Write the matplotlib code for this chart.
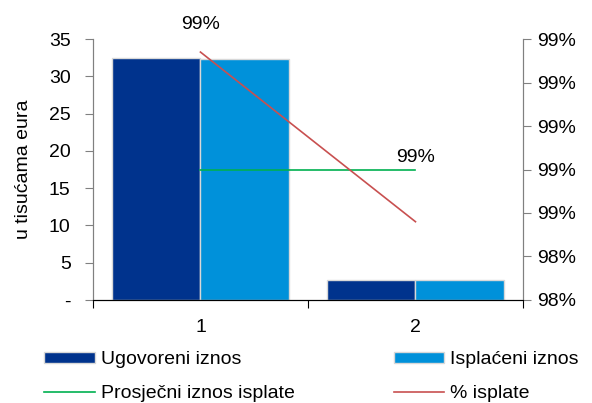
import numpy as np
import matplotlib
matplotlib.use("Agg")
import matplotlib.pyplot as plt
from matplotlib.ticker import FixedLocator, FuncFormatter

plt.rcParams["font.family"] = ["Liberation Sans", "DejaVu Sans"]
plt.rcParams["font.size"] = 14

# podaci
kategorije = ["1", "2"]
ugovoreni = [32.4, 2.7]
isplaceni = [32.3, 2.7]
prosjecni = [17.4, 17.4]
postotak = [0.9892, 0.9853]
postotak_oznake = ["99%", "99%"]
lijeve_oznake = [0, 5, 10, 15, 20, 25, 30, 35]
desne_oznake = [0.9835, 0.9845, 0.9855, 0.9865, 0.9875, 0.9885, 0.9895]

tamna = "#00338D"
svijetla = "#0091DA"
zelena = "#00B050"
crvena = "#C85050"

fig = plt.figure(figsize=(5.92, 4.03), dpi=100)
ax = fig.add_axes([0.157, 0.2556, 0.7264, 0.6476])
ax2 = ax.twinx()

x = np.arange(len(kategorije))
w = 0.41
b1 = ax.bar(x - w / 2, ugovoreni, w, color=tamna, edgecolor="#d8d8d8", linewidth=1)
b2 = ax.bar(x + w / 2, isplaceni, w, color=svijetla, edgecolor="#d8d8d8", linewidth=1)
l1, = ax.plot(x, prosjecni, color=zelena, linewidth=1.2)
l2, = ax2.plot(x, postotak, color=crvena, linewidth=1.2)

# oznake podataka
ax2.annotate(postotak_oznake[0], (x[0], postotak[0]), xytext=(0, 14),
             textcoords="offset points", ha="center", va="bottom")
ax2.annotate(postotak_oznake[1], (x[1], prosjecni[1]), xycoords=("data", ax.transData),
             xytext=(0, 3), textcoords="offset points", ha="center", va="bottom")

ax.set_xlim(-0.5, len(kategorije) - 0.5)
ax.set_ylim(0, 35)
ax2.set_ylim(desne_oznake[0], desne_oznake[-1])

ax.yaxis.set_major_locator(FixedLocator(lijeve_oznake))
ax.yaxis.set_major_formatter(FuncFormatter(lambda v, p: "-" if v == 0 else f"{int(v)}"))
ax2.yaxis.set_major_locator(FixedLocator(desne_oznake))
ax2.yaxis.set_major_formatter(FuncFormatter(lambda v, p: f"{int(np.floor(v * 100 + 0.5))}%"))

ax.set_xticks(np.arange(-0.5, len(kategorije)))
ax.set_xticklabels([])
ax.set_xticks(x, minor=True)
ax.set_xticklabels(kategorije, minor=True)
ax.tick_params(axis="x", which="minor", length=0, pad=14)
ax.tick_params(axis="x", which="major", length=6, color="black")
ax.tick_params(axis="y", length=6, color="#808080", pad=10)
ax2.tick_params(axis="y", length=6, color="#808080", pad=4)

for a in (ax, ax2):
    a.spines["top"].set_visible(False)
    a.spines["left"].set_color("#808080")
    a.spines["right"].set_color("#808080")
    a.spines["bottom"].set_color("black")

ax.set_ylabel("u tisućama eura", labelpad=12)

fig.legend([b1, l1, b2, l2],
           ["Ugovoreni iznos", "Prosječni iznos isplate", "Isplaćeni iznos", "% isplate"],
           ncol=2, loc="upper left", bbox_to_anchor=(0.075, 0.128), frameon=False,
           handlelength=2.6, handleheight=0.55, columnspacing=5.1, labelspacing=0.85,
           handletextpad=0.3, borderaxespad=0, borderpad=0)

fig.savefig("out.png", dpi=100)
